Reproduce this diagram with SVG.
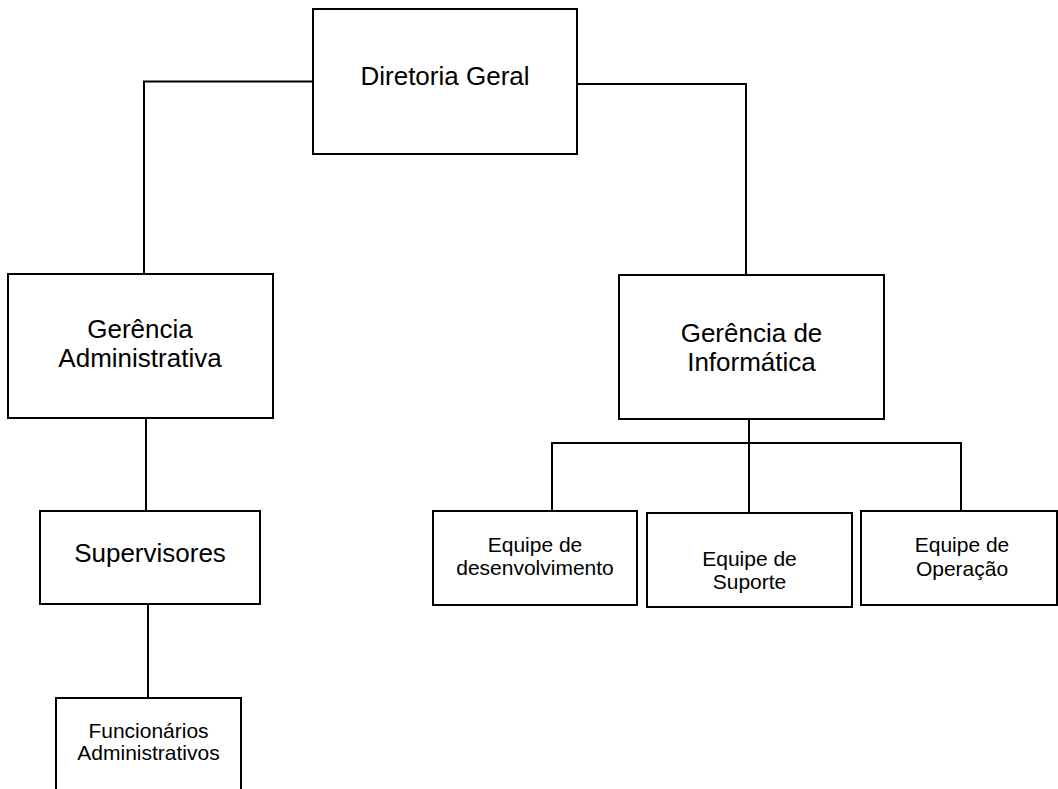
<svg xmlns="http://www.w3.org/2000/svg" width="1058" height="789" viewBox="0 0 1058 789">
<style>
.box{fill:#fff;stroke:#000;stroke-width:2}
.ln{fill:none;stroke:#000;stroke-width:2}
.t{font-family:"Liberation Sans",Arial,sans-serif;fill:#000;text-anchor:middle}
.big{font-size:26px}
.sm{font-size:21px}
</style>
<rect width="1058" height="789" fill="#fff"/>
<g id="connectors">
<polyline class="ln" points="313,81.5 144,81.5 144,274"/>
<polyline class="ln" points="577,84 746,84 746,275"/>
<line class="ln" x1="146" y1="418" x2="146" y2="511"/>
<line class="ln" x1="148" y1="604" x2="148" y2="698"/>
<line class="ln" x1="749" y1="419" x2="749" y2="513"/>
<polyline class="ln" points="552,511 552,443 961,443 961,511"/>
</g>
<g id="diretoria">
<rect class="box" x="313" y="9" width="264" height="145"/>
<text class="t big" x="445" y="85">Diretoria Geral</text>
</g>
<g id="gerencia-adm">
<rect class="box" x="8" y="274" width="265" height="144"/>
<text class="t big" x="140" y="338">Gerência</text>
<text class="t big" x="140" y="367">Administrativa</text>
</g>
<g id="gerencia-info">
<rect class="box" x="619" y="275" width="265" height="144"/>
<text class="t big" x="751.5" y="342">Gerência de</text>
<text class="t big" x="751.5" y="371">Informática</text>
</g>
<g id="supervisores">
<rect class="box" x="40" y="511" width="220" height="93"/>
<text class="t big" x="150" y="562">Supervisores</text>
</g>
<g id="funcionarios">
<rect class="box" x="56" y="698" width="185" height="110"/>
<text class="t sm" x="148.5" y="738">Funcionários</text>
<text class="t sm" x="148.5" y="760">Administrativos</text>
</g>
<g id="equipe-dev">
<rect class="box" x="433" y="511" width="204" height="94"/>
<text class="t sm" x="535" y="552">Equipe de</text>
<text class="t sm" x="535" y="575">desenvolvimento</text>
</g>
<g id="equipe-suporte">
<rect class="box" x="647" y="513" width="205" height="94"/>
<text class="t sm" x="749.5" y="566">Equipe de</text>
<text class="t sm" x="749.5" y="589">Suporte</text>
</g>
<g id="equipe-operacao">
<rect class="box" x="861" y="511" width="196" height="94"/>
<text class="t sm" x="962" y="552">Equipe de</text>
<text class="t sm" x="962" y="576">Operação</text>
</g>
</svg>
